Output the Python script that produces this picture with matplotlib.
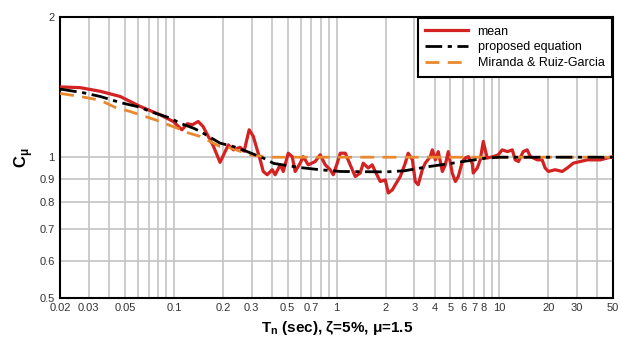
import matplotlib
matplotlib.use("Agg")
import matplotlib.pyplot as plt
import matplotlib.ticker as tk
import numpy as np

# periods (sec) and C_mu values
t_mean = [0.02, 0.0265, 0.0352, 0.0467, 0.062, 0.0824, 0.099, 0.112, 0.121, 0.130,
          0.141, 0.151, 0.160, 0.174, 0.192, 0.216, 0.232, 0.255, 0.270, 0.290,
          0.307, 0.325, 0.339, 0.354, 0.374, 0.402, 0.419, 0.450, 0.470, 0.504,
          0.533, 0.556, 0.597, 0.623, 0.669, 0.738, 0.792, 0.851, 0.913, 0.953,
          1.008, 1.052, 1.130, 1.211, 1.301, 1.396, 1.456, 1.563, 1.654, 1.726,
          1.853, 1.99, 2.075, 2.197, 2.292, 2.46, 2.64, 2.75, 2.92, 3.04,
          3.17, 3.36, 3.50, 3.76, 3.87, 4.04, 4.21, 4.46, 4.65, 4.85,
          5.13, 5.36, 5.59, 5.92, 6.17, 6.44, 6.81, 6.90, 7.31, 7.62,
          7.96, 8.41, 9.16, 9.84, 10.4, 11.2, 12.0, 12.5, 13.1, 14.0,
          14.8, 15.5, 17.1, 18.3, 19.1, 20.0, 22.0, 24.3, 26.1, 28.4,
          31.4, 34.7, 37.8, 41.7, 46.0, 50.0]
c_mean = [1.415, 1.41, 1.385, 1.35, 1.285, 1.233, 1.193, 1.145, 1.18, 1.174,
          1.193, 1.164, 1.12, 1.06, 0.975, 1.063, 1.037, 1.05, 1.03, 1.145,
          1.11, 1.037, 0.987, 0.932, 0.917, 0.940, 0.917, 0.963, 0.932, 1.020,
          1.003, 0.932, 0.971, 1.003, 0.963, 0.979, 1.012, 0.963, 0.940, 0.917,
          0.971, 1.020, 1.020, 0.963, 0.909, 0.925, 0.971, 0.948, 0.963, 0.932,
          0.887, 0.894, 0.838, 0.851, 0.873, 0.909, 0.971, 1.020, 0.987, 0.887,
          0.873, 0.940, 0.971, 1.003, 1.037, 0.987, 1.028, 0.932, 0.963, 1.028,
          0.925, 0.887, 0.909, 0.979, 0.996, 1.003, 0.971, 0.925, 0.948, 0.987,
          1.081, 0.996, 1.003, 1.012, 1.037, 1.028, 1.037, 0.987, 0.979, 1.028,
          1.037, 1.003, 0.987, 0.987, 0.948, 0.932, 0.940, 0.932, 0.948, 0.971,
          0.979, 0.987, 0.987, 0.987, 0.996, 1.003]

t_prop = [0.02, 0.0277, 0.0352, 0.0406, 0.0467, 0.062, 0.0715, 0.095, 0.109, 0.132,
          0.145, 0.192, 0.232, 0.282, 0.354, 0.41, 0.49, 0.6, 0.79, 1.05,
          2.0, 2.6, 3.7, 4.85, 6.0, 8.4, 10.0, 50.0]
c_prop = [1.40, 1.375, 1.35, 1.33, 1.31, 1.28, 1.253, 1.213, 1.183, 1.154,
          1.136, 1.072, 1.054, 1.028, 0.996, 0.97, 0.96, 0.95, 0.94, 0.932,
          0.93, 0.935, 0.955, 0.968, 0.979, 0.996, 1.0, 1.0]

t_mrg = [0.02, 0.0265, 0.0352, 0.0434, 0.0539, 0.0647, 0.0767, 0.105, 0.12, 0.145,
         0.192, 0.222, 0.3, 0.4, 50.0]
c_mrg = [1.37, 1.35, 1.325, 1.28, 1.253, 1.227, 1.203, 1.154, 1.13, 1.108,
         1.054, 1.047, 1.01, 1.0, 1.0]

x_major = [0.02, 0.03, 0.05, 0.1, 0.2, 0.3, 0.5, 0.7, 1, 2, 3, 4, 5, 6, 7, 8, 10, 20, 30, 50]
x_labels = ["0.02", "0.03", "0.05", "0.1", "0.2", "0.3", "0.5", "0.7", "1", "2",
            "3", "4", "5", "6", "7", "8", "10", "20", "30", "50"]
y_major = [0.5, 0.6, 0.7, 0.8, 0.9, 1, 2]
y_labels = ["0.5", "0.6", "0.7", "0.8", "0.9", "1", "2"]

plt.rcParams["font.family"] = ["Liberation Sans", "DejaVu Sans"]
plt.rcParams["mathtext.fontset"] = "custom"
plt.rcParams["mathtext.rm"] = "Liberation Sans"
plt.rcParams["mathtext.bf"] = "Liberation Sans:bold"

fig = plt.figure(figsize=(6.2, 3.44), dpi=100)
ax = fig.add_axes([0.097, 0.135, 0.892, 0.816])

ax.plot(t_mean, c_mean, color="#d42222", lw=2.3, label="mean", zorder=3)
ax.plot(t_mrg, c_mrg, color="#e8892e", lw=2.0, ls=(0, (5, 3)), label="Miranda & Ruiz-Garcia", zorder=4)
ax.plot(t_prop, c_prop, color="black", lw=2.0, ls=(0, (6, 2, 1.5, 2)), label="proposed equation", zorder=5)

ax.set_xscale("log")
ax.set_yscale("log")
ax.set_xlim(0.02, 50)
ax.set_ylim(0.5, 2)

ax.xaxis.set_major_locator(tk.FixedLocator(x_major))
ax.xaxis.set_major_formatter(tk.FixedFormatter(x_labels))
x_minor = [m * 10.0 ** e for e in range(-2, 2) for m in range(1, 10)]
ax.xaxis.set_minor_locator(tk.FixedLocator([v for v in x_minor if 0.02 < v < 50]))
ax.xaxis.set_minor_formatter(tk.NullFormatter())
ax.yaxis.set_major_locator(tk.FixedLocator(y_major))
ax.yaxis.set_major_formatter(tk.FixedFormatter(y_labels))
ax.yaxis.set_minor_locator(tk.NullLocator())

ax.grid(True, which="both", axis="x", color="#c4c4c4", lw=1.2)
ax.grid(True, which="major", axis="y", color="#c4c4c4", lw=1.2)
ax.set_axisbelow(True)
ax.tick_params(which="both", length=0, labelsize=8, labelcolor="#333333", pad=4)

for s in ax.spines.values():
    s.set_linewidth(1.5)
    s.set_color("black")

ax.set_xlabel(r"T$_\mathbf{n}$ (sec), ζ=5%, μ=1.5", fontsize=11, fontweight="bold", labelpad=4)
ax.set_ylabel(r"C$_\mathbf{μ}$", fontsize=12, fontweight="bold", labelpad=3)

h, l = ax.get_legend_handles_labels()
order = [0, 2, 1]
leg = ax.legend([h[i] for i in order], [l[i] for i in order], loc="upper right",
                fontsize=9, frameon=True, fancybox=False, handlelength=3.4,
                labelspacing=0.3, borderaxespad=0.1, borderpad=0.6, handletextpad=0.8)
leg.get_frame().set_edgecolor("black")
leg.get_frame().set_linewidth(1.5)
leg.get_frame().set_alpha(1)

fig.savefig("out.png", dpi=100)
